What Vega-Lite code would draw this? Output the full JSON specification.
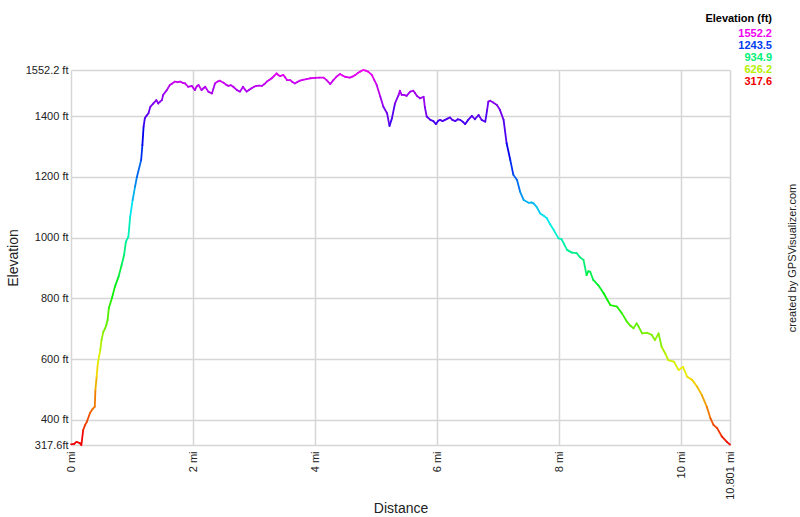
{
  "$schema": "https://vega.github.io/schema/vega-lite/v6.json",
  "width": 659,
  "height": 375,
  "autosize": {"type": "none"},
  "padding": {"left": 71, "top": 70, "right": 70, "bottom": 72},
  "background": "white",
  "config": {
    "view": {"stroke": null},
    "font": "Liberation Sans",
    "axis": {
      "labelFont": "Liberation Sans",
      "titleFont": "Liberation Sans",
      "labelFontSize": 11,
      "titleFontSize": 14,
      "titleFontWeight": "normal",
      "labelColor": "#222222",
      "titleColor": "#222222",
      "gridColor": "#d6d6d6",
      "gridWidth": 1.5,
      "domain": false,
      "ticks": false
    }
  },
  "data": {
    "values": [
      {"d": 0.00, "e": 320}, {"d": 0.05, "e": 321}, {"d": 0.09, "e": 328}, {"d": 0.13, "e": 325},
      {"d": 0.15, "e": 323}, {"d": 0.17, "e": 317.6}, {"d": 0.20, "e": 367}, {"d": 0.23, "e": 383},
      {"d": 0.26, "e": 394}, {"d": 0.31, "e": 422}, {"d": 0.35, "e": 435}, {"d": 0.39, "e": 444},
      {"d": 0.40, "e": 499}, {"d": 0.42, "e": 542}, {"d": 0.44, "e": 587}, {"d": 0.48, "e": 630},
      {"d": 0.50, "e": 663}, {"d": 0.53, "e": 690}, {"d": 0.56, "e": 702}, {"d": 0.58, "e": 713},
      {"d": 0.60, "e": 729}, {"d": 0.62, "e": 768}, {"d": 0.67, "e": 801}, {"d": 0.72, "e": 839},
      {"d": 0.78, "e": 872}, {"d": 0.83, "e": 910}, {"d": 0.87, "e": 943}, {"d": 0.90, "e": 987},
      {"d": 0.94, "e": 1003}, {"d": 0.97, "e": 1069}, {"d": 1.01, "e": 1124}, {"d": 1.05, "e": 1168},
      {"d": 1.08, "e": 1200}, {"d": 1.15, "e": 1256}, {"d": 1.17, "e": 1305}, {"d": 1.19, "e": 1366},
      {"d": 1.21, "e": 1393}, {"d": 1.24, "e": 1402}, {"d": 1.27, "e": 1410}, {"d": 1.30, "e": 1431},
      {"d": 1.35, "e": 1442}, {"d": 1.40, "e": 1453}, {"d": 1.43, "e": 1442}, {"d": 1.46, "e": 1448},
      {"d": 1.49, "e": 1453}, {"d": 1.51, "e": 1470}, {"d": 1.57, "e": 1486}, {"d": 1.62, "e": 1503},
      {"d": 1.66, "e": 1508}, {"d": 1.70, "e": 1514}, {"d": 1.75, "e": 1512}, {"d": 1.79, "e": 1514},
      {"d": 1.83, "e": 1510}, {"d": 1.87, "e": 1508}, {"d": 1.92, "e": 1497}, {"d": 1.98, "e": 1500},
      {"d": 2.03, "e": 1486}, {"d": 2.06, "e": 1498}, {"d": 2.09, "e": 1503}, {"d": 2.14, "e": 1486},
      {"d": 2.17, "e": 1492}, {"d": 2.20, "e": 1497}, {"d": 2.25, "e": 1481}, {"d": 2.31, "e": 1475},
      {"d": 2.36, "e": 1508}, {"d": 2.40, "e": 1514}, {"d": 2.44, "e": 1517}, {"d": 2.50, "e": 1510},
      {"d": 2.54, "e": 1504}, {"d": 2.58, "e": 1500}, {"d": 2.62, "e": 1502}, {"d": 2.66, "e": 1497},
      {"d": 2.72, "e": 1486}, {"d": 2.77, "e": 1481}, {"d": 2.82, "e": 1497}, {"d": 2.85, "e": 1488},
      {"d": 2.88, "e": 1481}, {"d": 2.92, "e": 1487}, {"d": 2.96, "e": 1492}, {"d": 3.00, "e": 1497},
      {"d": 3.04, "e": 1500}, {"d": 3.08, "e": 1501}, {"d": 3.13, "e": 1500}, {"d": 3.17, "e": 1506},
      {"d": 3.21, "e": 1514}, {"d": 3.25, "e": 1519}, {"d": 3.29, "e": 1525}, {"d": 3.33, "e": 1533},
      {"d": 3.37, "e": 1541}, {"d": 3.40, "e": 1535}, {"d": 3.43, "e": 1532}, {"d": 3.48, "e": 1536},
      {"d": 3.51, "e": 1528}, {"d": 3.54, "e": 1519}, {"d": 3.59, "e": 1519}, {"d": 3.63, "e": 1513},
      {"d": 3.67, "e": 1508}, {"d": 3.71, "e": 1513}, {"d": 3.75, "e": 1517}, {"d": 3.80, "e": 1520},
      {"d": 3.86, "e": 1522}, {"d": 3.92, "e": 1525}, {"d": 4.00, "e": 1526}, {"d": 4.07, "e": 1527},
      {"d": 4.14, "e": 1527}, {"d": 4.19, "e": 1519}, {"d": 4.25, "e": 1506}, {"d": 4.30, "e": 1519},
      {"d": 4.35, "e": 1530}, {"d": 4.41, "e": 1539}, {"d": 4.45, "e": 1534}, {"d": 4.49, "e": 1530},
      {"d": 4.57, "e": 1527}, {"d": 4.62, "e": 1531}, {"d": 4.66, "e": 1536}, {"d": 4.70, "e": 1542},
      {"d": 4.74, "e": 1547}, {"d": 4.79, "e": 1552.2}, {"d": 4.83, "e": 1550}, {"d": 4.87, "e": 1547},
      {"d": 4.93, "e": 1536}, {"d": 4.97, "e": 1520}, {"d": 5.01, "e": 1503}, {"d": 5.07, "e": 1464},
      {"d": 5.12, "e": 1431}, {"d": 5.18, "e": 1410}, {"d": 5.22, "e": 1368}, {"d": 5.26, "e": 1393},
      {"d": 5.31, "e": 1442}, {"d": 5.37, "e": 1470}, {"d": 5.39, "e": 1484}, {"d": 5.42, "e": 1470},
      {"d": 5.46, "e": 1470}, {"d": 5.50, "e": 1467}, {"d": 5.56, "e": 1481}, {"d": 5.61, "e": 1484},
      {"d": 5.64, "e": 1476}, {"d": 5.67, "e": 1467}, {"d": 5.72, "e": 1459}, {"d": 5.78, "e": 1464},
      {"d": 5.80, "e": 1430}, {"d": 5.83, "e": 1399}, {"d": 5.89, "e": 1388}, {"d": 5.94, "e": 1384},
      {"d": 5.98, "e": 1374}, {"d": 6.02, "e": 1385}, {"d": 6.05, "e": 1388}, {"d": 6.09, "e": 1384},
      {"d": 6.13, "e": 1388}, {"d": 6.17, "e": 1392}, {"d": 6.21, "e": 1396}, {"d": 6.25, "e": 1388},
      {"d": 6.30, "e": 1384}, {"d": 6.34, "e": 1390}, {"d": 6.38, "e": 1388}, {"d": 6.42, "e": 1382},
      {"d": 6.46, "e": 1374}, {"d": 6.51, "e": 1388}, {"d": 6.57, "e": 1401}, {"d": 6.62, "e": 1390},
      {"d": 6.68, "e": 1404}, {"d": 6.73, "e": 1388}, {"d": 6.79, "e": 1382}, {"d": 6.82, "e": 1420},
      {"d": 6.84, "e": 1448}, {"d": 6.87, "e": 1451}, {"d": 6.92, "e": 1445}, {"d": 6.98, "e": 1437},
      {"d": 7.03, "e": 1421}, {"d": 7.09, "e": 1388}, {"d": 7.14, "e": 1311}, {"d": 7.20, "e": 1256},
      {"d": 7.25, "e": 1207}, {"d": 7.31, "e": 1190}, {"d": 7.36, "e": 1152}, {"d": 7.42, "e": 1124},
      {"d": 7.50, "e": 1115}, {"d": 7.55, "e": 1116}, {"d": 7.58, "e": 1113}, {"d": 7.63, "e": 1102},
      {"d": 7.69, "e": 1080}, {"d": 7.75, "e": 1072}, {"d": 7.80, "e": 1064}, {"d": 7.85, "e": 1045},
      {"d": 7.91, "e": 1026}, {"d": 7.99, "e": 998}, {"d": 8.04, "e": 995}, {"d": 8.08, "e": 980},
      {"d": 8.13, "e": 960}, {"d": 8.21, "e": 951}, {"d": 8.29, "e": 949}, {"d": 8.34, "e": 936},
      {"d": 8.40, "e": 927}, {"d": 8.45, "e": 877}, {"d": 8.48, "e": 890}, {"d": 8.51, "e": 888},
      {"d": 8.56, "e": 861}, {"d": 8.64, "e": 844}, {"d": 8.73, "e": 817}, {"d": 8.79, "e": 796},
      {"d": 8.84, "e": 778}, {"d": 8.95, "e": 773}, {"d": 9.03, "e": 751}, {"d": 9.11, "e": 724},
      {"d": 9.17, "e": 710}, {"d": 9.22, "e": 702}, {"d": 9.27, "e": 718}, {"d": 9.31, "e": 705},
      {"d": 9.36, "e": 685}, {"d": 9.44, "e": 687}, {"d": 9.52, "e": 680}, {"d": 9.57, "e": 663},
      {"d": 9.63, "e": 685}, {"d": 9.68, "e": 641}, {"d": 9.74, "e": 619}, {"d": 9.79, "e": 597},
      {"d": 9.88, "e": 592}, {"d": 9.96, "e": 564}, {"d": 10.03, "e": 575}, {"d": 10.10, "e": 542},
      {"d": 10.18, "e": 532}, {"d": 10.26, "e": 510}, {"d": 10.34, "e": 482}, {"d": 10.42, "e": 444},
      {"d": 10.48, "e": 406}, {"d": 10.53, "e": 384}, {"d": 10.59, "e": 373}, {"d": 10.67, "e": 345},
      {"d": 10.75, "e": 328}, {"d": 10.801, "e": 319}
    ]
  },
  "layer": [
    {
      "transform": [
        {"window": [{"op": "lead", "field": "d", "as": "d2"}, {"op": "lead", "field": "e", "as": "e2"}], "sort": [{"field": "d"}]},
        {"filter": "datum.d2 != null"}
      ],
      "mark": {"type": "rule", "strokeWidth": 1.8, "strokeCap": "round"},
      "encoding": {
        "x": {
          "field": "d", "type": "quantitative",
          "scale": {"domain": [0, 10.801], "nice": false, "zero": false},
          "axis": {
            "title": "Distance",
            "values": [0, 2, 4, 6, 8, 10, 10.801],
            "labelExpr": "datum.value + ' mi'",
            "labelAngle": 270,
            "labelPadding": 6,
            "titlePadding": 2,
            "grid": true
          }
        },
        "y": {
          "field": "e", "type": "quantitative",
          "scale": {"domain": [317.6, 1552.2], "nice": false, "zero": false},
          "axis": {
            "title": "Elevation",
            "values": [317.6, 400, 600, 800, 1000, 1200, 1400, 1552.2],
            "labelExpr": "datum.value == 317.6 ? '317.6ft' : datum.value + ' ft'",
            "labelPadding": 3,
            "titlePadding": 5,
            "grid": true
          }
        },
        "x2": {"field": "d2"},
        "y2": {"field": "e2"},
        "color": {
          "field": "e", "type": "quantitative",
          "scale": {
            "domain": [317.6, 1552.2],
            "interpolate": "rgb",
            "range": ["#f00000", "#f07800", "#f0f000", "#78f000", "#00f000", "#00f078", "#00f0f0", "#0078f0", "#0000f0", "#7800f0", "#f000f0"]
          },
          "legend": {
            "type": "symbol",
            "orient": "none",
            "legendX": 634,
            "legendY": -57,
            "title": "Elevation (ft)",
            "titleFont": "Liberation Sans",
            "titleFontSize": 11,
            "titleFontWeight": "bold",
            "titleColor": "#000000",
            "titleAnchor": "end",
            "titlePadding": 4,
            "values": [1552.2, 1243.5, 934.9, 626.2, 317.6],
            "labelExpr": "format(datum.value, '.1f')",
            "labelFont": "Liberation Sans",
            "labelFontSize": 11,
            "labelFontWeight": "bold",
            "labelAlign": "right",
            "labelColor": {"expr": "scale('color', datum.value)"},
            "labelOffset": 0,
            "symbolSize": 0,
            "symbolStrokeWidth": 0,
            "symbolOpacity": 0,
            "rowPadding": 0
          }
        }
      }
    },
    {
      "mark": {"type": "point", "opacity": 0, "size": 0},
      "encoding": {
        "x": {"field": "d", "type": "quantitative"},
        "y": {
          "field": "e", "type": "quantitative",
          "axis": {
            "orient": "right",
            "title": "created by GPSVisualizer.com",
            "titleFontSize": 11,
            "titleAngle": 270,
            "titlePadding": 67,
            "labels": false,
            "grid": false
          }
        }
      }
    }
  ],
  "resolve": {"axis": {"y": "independent"}}
}
